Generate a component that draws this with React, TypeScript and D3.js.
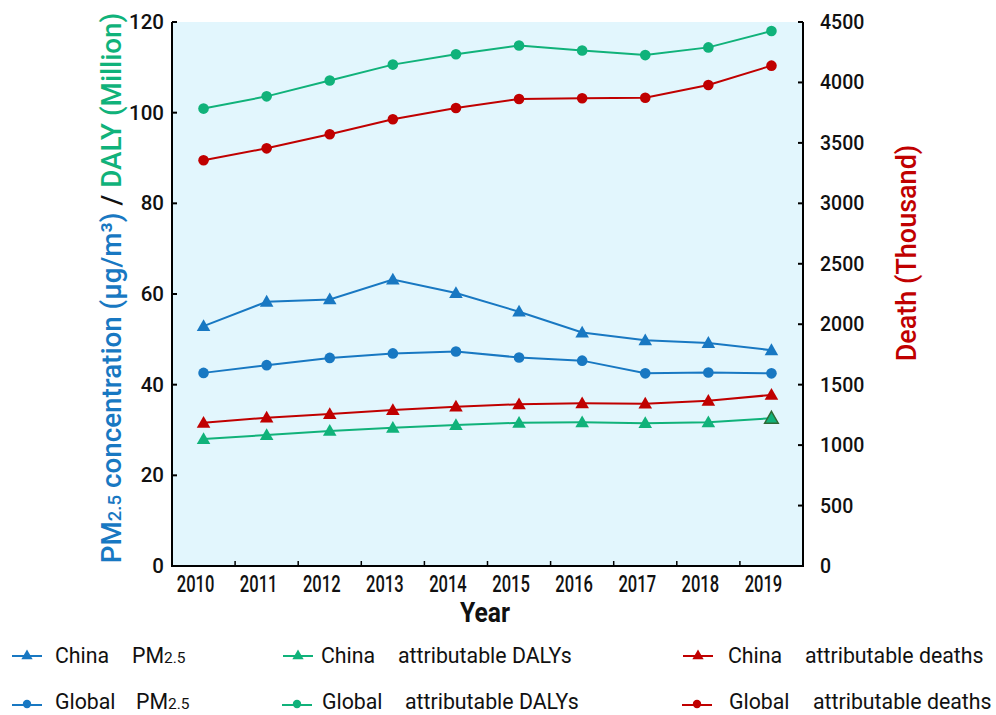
import React from "react";
import * as d3 from "d3";

const years = ["2010", "2011", "2012", "2013", "2014", "2015", "2016", "2017", "2018", "2019"];
const chinaPM = [52.9, 58.3, 58.8, 63.2, 60.2, 56.1, 51.5, 49.8, 49.2, 47.6];
const globalPM = [42.6, 44.3, 45.9, 46.9, 47.3, 46.0, 45.3, 42.5, 42.7, 42.5];
const chinaDALY = [28.0, 28.9, 29.8, 30.5, 31.1, 31.6, 31.7, 31.5, 31.7, 32.6];
const globalDALY = [100.9, 103.6, 107.1, 110.6, 112.9, 114.8, 113.7, 112.7, 114.4, 118.0];
const chinaDeaths = [1185, 1227, 1257, 1290, 1318, 1338, 1346, 1343, 1367, 1415];
const globalDeaths = [3356, 3455, 3571, 3695, 3789, 3863, 3869, 3874, 3979, 4139];
const leftTicks = [0, 20, 40, 60, 80, 100, 120];
const rightTicks = [0, 500, 1000, 1500, 2000, 2500, 3000, 3500, 4000, 4500];

const BLUE = "#1878c2";
const GREEN = "#10b27a";
const RED = "#c00000";
const FONT = "Roboto, 'Noto Sans', sans-serif";

const X0 = 172, X1 = 803, Y0 = 566, Y1 = 22;

const x = d3.scaleBand<string>().domain(years).range([X0, X1]).padding(0);
const yL = d3.scaleLinear().domain([0, 120]).range([Y0, Y1]);
const yR = d3.scaleLinear().domain([0, 4500]).range([Y0, Y1]);

const cx = (y: string) => (x(y) as number) + x.bandwidth() / 2;

const triPath = d3.symbol().type(d3.symbolTriangle).size(80)() as string;
const triSmall = d3.symbol().type(d3.symbolTriangle).size(55)() as string;

type Series = { values: number[]; scale: d3.ScaleLinear<number, number>; color: string; marker: "tri" | "circle" };

const series: Series[] = [
  { values: chinaPM, scale: yL, color: BLUE, marker: "tri" },
  { values: globalPM, scale: yL, color: BLUE, marker: "circle" },
  { values: chinaDALY, scale: yL, color: GREEN, marker: "tri" },
  { values: globalDALY, scale: yL, color: GREEN, marker: "circle" },
  { values: chinaDeaths, scale: yR, color: RED, marker: "tri" },
  { values: globalDeaths, scale: yR, color: RED, marker: "circle" },
];

function Marker({ kind, color, x, y, small, stroke }: { kind: string; color: string; x: number; y: number; small?: boolean; stroke?: string }) {
  if (kind === "tri") {
    return <path d={small ? triSmall : triPath} transform={`translate(${x},${y + 1})`} fill={color} stroke={stroke || "none"} strokeWidth={stroke ? 1.5 : 0} />;
  }
  return <circle cx={x} cy={y} r={small ? 4.2 : 5.3} fill={color} />;
}

const legendItems = [
  { x: 12, row: 0, color: BLUE, marker: "tri", a: "China", ax: 55, b: "PM", bx: 132, sub: true },
  { x: 12, row: 1, color: BLUE, marker: "circle", a: "Global", ax: 55, b: "PM", bx: 136, sub: true },
  { x: 283, row: 0, color: GREEN, marker: "tri", a: "China", ax: 321, b: "attributable DALYs", bx: 398, sub: false },
  { x: 282, row: 1, color: GREEN, marker: "circle", a: "Global", ax: 322, b: "attributable DALYs", bx: 405, sub: false },
  { x: 683, row: 0, color: RED, marker: "tri", a: "China", ax: 728, b: "attributable deaths", bx: 805, sub: false },
  { x: 682, row: 1, color: RED, marker: "circle", a: "Global", ax: 729, b: "attributable deaths", bx: 813, sub: false },
];

export default function App() {
  const line = (s: Series) =>
    d3.line<number>().x((_, i) => cx(years[i])).y((v) => s.scale(v))(s.values) as string;

  return (
    <svg width={996} height={715} style={{ position: "absolute", left: 0, top: 0 }} fontFamily={FONT}>
      <rect x={X0} y={Y1} width={X1 - X0} height={Y0 - Y1} fill="#e2f6fd" />

      {series.map((s, si) => (
        <g key={si}>
          <path d={line(s)} fill="none" stroke={s.color} strokeWidth={2} />
          {s.values.map((v, i) => (
            <Marker
              key={i}
              kind={s.marker}
              color={s.color}
              x={cx(years[i])}
              y={s.scale(v)}
              stroke={si === 2 && i === years.length - 1 ? "#2f6a35" : undefined}
            />
          ))}
        </g>
      ))}

      {/* axes */}
      <line x1={X0} y1={Y1} x2={X0} y2={Y0 + 1} stroke="#000" strokeWidth={2} />
      <line x1={X1} y1={Y1} x2={X1} y2={Y0 + 1} stroke="#000" strokeWidth={2} />
      <line x1={X0 - 1} y1={Y0} x2={X1 + 1} y2={Y0} stroke="#000" strokeWidth={2} />

      {leftTicks.map((t) => (
        <g key={t}>
          <line x1={X0} x2={X0 + 5} y1={yL(t)} y2={yL(t)} stroke="#000" strokeWidth={2} />
          <text x={164} y={yL(t) + 7} textAnchor="end" fontSize={20.5} fontWeight={500} fill="#111">{t}</text>
        </g>
      ))}
      {rightTicks.map((t) => (
        <g key={t}>
          <line x1={X1 - 5} x2={X1} y1={yR(t)} y2={yR(t)} stroke="#000" strokeWidth={2} />
          <text x={820} y={yR(t) + 7} textAnchor="start" fontSize={19.5} fontWeight={500} fill="#111">{t}</text>
        </g>
      ))}
      {years.map((yr, i) => (
        <g key={yr}>
          {i > 0 && <line x1={x(yr) as number} x2={x(yr) as number} y1={Y0} y2={Y0 - 5} stroke="#000" strokeWidth={1.5} />}
          <text transform={`translate(${cx(yr) - 8},${592}) scale(0.72,1)`} textAnchor="middle" fontSize={23} fontWeight={500} fill="#111">{yr}</text>
        </g>
      ))}

      <text transform={`translate(485,622) scale(0.88,1)`} textAnchor="middle" fontSize={28} fontWeight={700} fill="#111">Year</text>

      <text transform={`translate(121,288) rotate(-90)`} textAnchor="middle" fontSize={27.8} fontWeight={500}>
        <tspan fill={BLUE}>PM</tspan>
        <tspan fill={BLUE} fontSize={18.5}>2.5</tspan>
        <tspan fill={BLUE}> concentration (μg/m³)</tspan>
        <tspan fill="#111"> / </tspan>
        <tspan fill={GREEN}>DALY (Million)</tspan>
      </text>

      <text transform={`translate(916,253) rotate(-90)`} textAnchor="middle" fontSize={27} fontWeight={500} fill={RED}>Death (Thousand)</text>

      {legendItems.map((it, i) => {
        const ly = it.row === 0 ? 656 : 705;
        const ty = it.row === 0 ? 663 : 709;
        return (
          <g key={i}>
            <line x1={it.x} x2={it.x + 30} y1={ly} y2={ly} stroke={it.color} strokeWidth={2} />
            <Marker kind={it.marker} color={it.color} x={it.x + 15} y={ly - 1} small />
            <text x={it.ax} y={ty} fontSize={21.3} fill="#111">{it.a}</text>
            <text x={it.bx} y={ty} fontSize={21.3} fill="#111">
              {it.b}
              {it.sub && <tspan fontSize={15.5}>2.5</tspan>}
            </text>
          </g>
        );
      })}
    </svg>
  );
}
